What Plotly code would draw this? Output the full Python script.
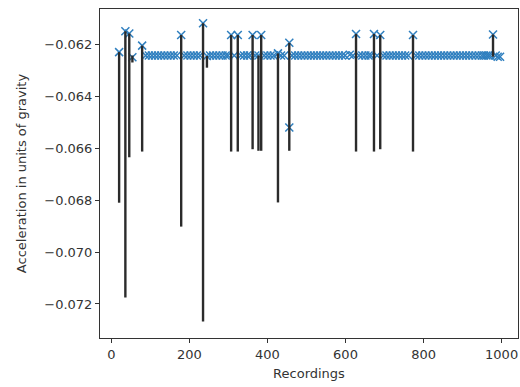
import plotly.graph_objects as go

# Recording index and mean acceleration (g) for each marker
rec_x = [
    20, 36, 46, 54, 79, 179, 235, 245, 307, 324, 362, 384, 427, 456, 456,
    627, 673, 689, 773, 978, 996,
    88, 96, 104, 112, 120, 128, 136, 144, 152, 160, 168, 187, 195, 203, 211,
    219, 227, 253, 261, 269, 277, 285, 293, 299, 315, 332, 340, 348, 355,
    369, 377, 392, 400, 408, 416, 435, 443, 463, 471, 479, 487, 495, 503,
    511, 519, 527, 535, 543, 551, 559, 567, 575, 583, 591, 599, 611, 619,
    635, 643, 651, 659, 665, 681, 697, 705, 713, 721, 729, 737, 745, 753,
    761, 781, 789, 797, 805, 813, 821, 829, 837, 845, 853, 861, 869, 877,
    885, 893, 901, 909, 917, 925, 933, 941, 949, 955, 961, 966, 971, 985, 990,
]
rec_mean = [
    -0.06230, -0.06150, -0.06158, -0.06250, -0.06205, -0.06164, -0.06119,
    -0.06245, -0.06164, -0.06164, -0.06164, -0.06164, -0.06235, -0.06194,
    -0.06520, -0.06160, -0.06160, -0.06164, -0.06164, -0.06162, -0.06248,
    -0.06243, -0.06243, -0.06243, -0.06243, -0.06243, -0.06243, -0.06243,
    -0.06243, -0.06243, -0.06243, -0.06243, -0.06243, -0.06243, -0.06243,
    -0.06243, -0.06243, -0.06243, -0.06243, -0.06243, -0.06243, -0.06243,
    -0.06243, -0.06243, -0.06243, -0.06243, -0.06243, -0.06243, -0.06243,
    -0.06243, -0.06243, -0.06243, -0.06243, -0.06243, -0.06243, -0.06243,
    -0.06243, -0.06243, -0.06243, -0.06243, -0.06243, -0.06243, -0.06243,
    -0.06243, -0.06243, -0.06243, -0.06243, -0.06243, -0.06243, -0.06243,
    -0.06243, -0.06243, -0.06243, -0.06243, -0.06243, -0.06243, -0.06240,
    -0.06243, -0.06243, -0.06243, -0.06243, -0.06243, -0.06243, -0.06243,
    -0.06243, -0.06243, -0.06243, -0.06243, -0.06243, -0.06243, -0.06243,
    -0.06243, -0.06243, -0.06243, -0.06243, -0.06243, -0.06243, -0.06243,
    -0.06243, -0.06243, -0.06243, -0.06243, -0.06243, -0.06243, -0.06243,
    -0.06243, -0.06243, -0.06243, -0.06243, -0.06243, -0.06243, -0.06243,
    -0.06243, -0.06243, -0.06243, -0.06243, -0.06243, -0.06243, -0.06243,
    -0.06243, -0.06248,
]

# Range of each recording that contains a dip (min .. max)
span_x = [20, 36, 46, 54, 79, 179, 235, 245, 307, 324, 362, 377, 384, 427,
          456, 627, 673, 689, 773, 978]
span_low = [-0.06810, -0.07175, -0.06635, -0.06270, -0.06613, -0.06902,
            -0.07267, -0.06290, -0.06613, -0.06613, -0.06604, -0.06610,
            -0.06610, -0.06809, -0.06610, -0.06613, -0.06613, -0.06604,
            -0.06613, -0.06248]
span_high = [-0.06230, -0.06150, -0.06158, -0.06243, -0.06205, -0.06164,
             -0.06119, -0.06245, -0.06164, -0.06164, -0.06164, -0.06243,
             -0.06164, -0.06235, -0.06194, -0.06160, -0.06160, -0.06164,
             -0.06164, -0.06162]

x_ticks = [0, 200, 400, 600, 800, 1000]
y_ticks = [-0.062, -0.064, -0.066, -0.068, -0.070, -0.072]

seg_x, seg_y = [], []
for x, lo, hi in zip(span_x, span_low, span_high):
    seg_x += [x, x, None]
    seg_y += [lo, hi, None]

fig = go.Figure()
fig.add_trace(go.Scatter(
    x=rec_x, y=rec_mean, mode="markers",
    marker=dict(symbol="x-thin", size=8, color="#2f7fbf",
                line=dict(width=1.5, color="#2f7fbf")),
    showlegend=False,
))
fig.add_trace(go.Scatter(
    x=seg_x, y=seg_y, mode="lines",
    line=dict(color="#2b2b2b", width=2.4),
    showlegend=False, connectgaps=False,
))

font = dict(family="DejaVu Sans", size=13, color="#333333")
fig.update_layout(
    width=520, height=387,
    margin=dict(l=100, r=2, t=9, b=49),
    paper_bgcolor="white", plot_bgcolor="white",
    font=font,
    xaxis=dict(
        range=[-29, 1042], tickvals=x_ticks, ticks="outside", ticklen=4,
        tickcolor="#333", showline=True, linecolor="#333", linewidth=1,
        mirror=True, showgrid=False, zeroline=False,
        title=dict(text="Recordings", font=font, standoff=8),
    ),
    yaxis=dict(
        range=[-0.07331, -0.06064], tickvals=y_ticks, tickformat=".3f",
        ticks="outside", ticklen=4, tickcolor="#333", showline=True,
        linecolor="#333", linewidth=1, mirror=True, showgrid=False,
        zeroline=False,
        title=dict(text="Acceleration in units of gravity", font=font,
                   standoff=14),
    ),
)

fig.write_html("out.html")
